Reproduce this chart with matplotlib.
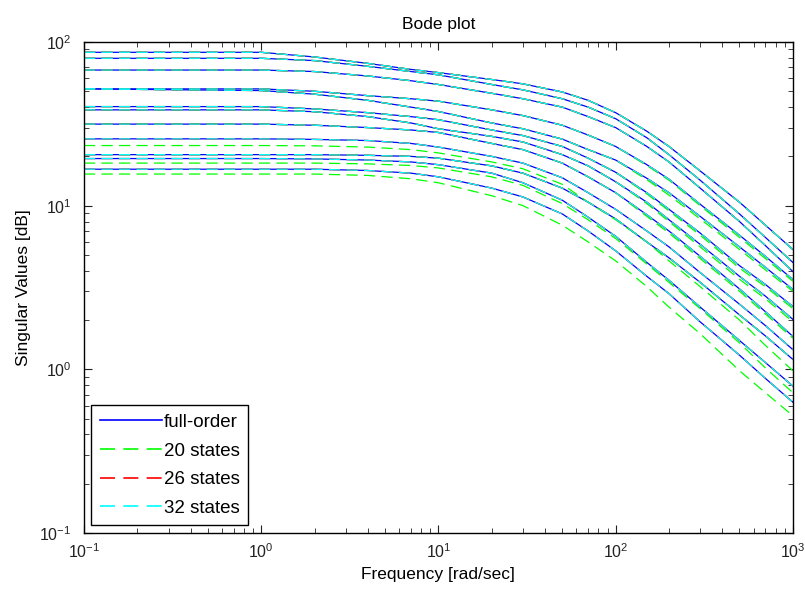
import numpy as np
import matplotlib
matplotlib.use('Agg')
import matplotlib.pyplot as plt
from matplotlib.ticker import LogLocator, NullFormatter

plt.rcParams['font.family'] = ['Liberation Sans', 'DejaVu Sans']

# frequency samples [rad/sec]
freq = [0.1, 1, 2, 4, 7, 10, 20, 30, 50, 70, 100, 150, 200, 300, 500, 700, 1000]

# singular values, full-order model
sv_full = [
    [86.5, 86.5, 81, 74, 68, 65, 59, 55.5, 49.5, 44, 37, 28.5, 23, 16.3, 10.5, 7.6, 5.4],
    [79.5, 79.5, 77, 71, 66, 63, 55, 51, 45, 40, 34, 26, 20.5, 14.3, 8.9, 6.4, 4.5],
    [67.4, 67.4, 66, 62, 58, 55, 48.6, 45, 40, 35, 30, 23, 18.5, 12.8, 8.0, 5.7, 3.96],
    [51.7, 51.7, 50, 47, 45, 43.5, 38.5, 35.5, 31, 27, 23, 17.8, 14.5, 10.2, 6.6, 4.9, 3.54],
    [51.7, 50.5, 48, 44, 40, 37.6, 32, 29.5, 25.5, 22, 19, 14.7, 12, 8.6, 5.6, 4.2, 3.08],
    [40.3, 40.3, 39, 37, 35, 33.5, 29, 26.8, 23, 19.5, 16, 12, 9.5, 6.8, 4.3, 3.3, 2.42],
    [38.5, 38.5, 37.5, 35, 32, 29.5, 26.5, 24.5, 20.5, 17.5, 14, 10.5, 8.2, 5.8, 3.7, 2.8, 2.02],
    [31.5, 31.5, 31, 30, 29, 28, 24, 22, 18.2, 15, 12, 8.8, 7, 4.9, 3.1, 2.25, 1.59],
    [25.6, 25.6, 25.4, 25, 24, 22.8, 20, 18.2, 14.8, 12, 9.5, 7.0, 5.6, 3.9, 2.5, 1.85, 1.32],
    [20.5, 20.5, 20.5, 20.3, 20, 19.5, 17.5, 15.8, 12.8, 10.5, 8.3, 6.0, 4.8, 3.4, 2.15, 1.6, 1.15],
    [19.4, 19.4, 19.3, 19, 18.5, 17.8, 15.8, 13.8, 10.8, 8.5, 6.5, 4.5, 3.5, 2.4, 1.5, 1.1, 0.79],
    [16.7, 16.7, 16.7, 16.4, 15.8, 15, 12.8, 11.3, 8.9, 7, 5.3, 3.7, 2.9, 1.95, 1.22, 0.88, 0.63],
]

# 20-state reduced model
sv_20 = [
    [86.5, 86.5, 81, 74, 68, 65, 59, 55.5, 49.5, 44, 37, 28.5, 23, 16.3, 10.5, 7.6, 5.4],
    [79.5, 79.5, 77, 71, 66, 63, 55, 51, 45, 40, 34, 26, 20.5, 14.3, 8.9, 6.4, 4.5],
    [67.4, 67.4, 66, 62, 58, 55, 48.6, 45, 40, 35, 30, 23, 18.5, 12.8, 8.0, 5.7, 3.96],
    [51.7, 51.7, 50, 47, 45, 43.5, 38.5, 35.5, 31, 27, 23, 17.6, 14.3, 10, 6.4, 4.75, 3.45],
    [51.7, 50.5, 48, 44, 40, 37.6, 32, 29.5, 25.5, 22, 19, 14.4, 11.6, 8.3, 5.4, 4.05, 3.0],
    [40.3, 40.3, 39, 37, 35, 33.5, 29, 26.8, 23, 19.5, 16, 11.8, 9.3, 6.6, 4.15, 3.2, 2.35],
    [38.5, 38.5, 37.5, 35, 32, 29.5, 26.5, 24.5, 20.5, 17.5, 14, 10.3, 8.0, 5.6, 3.55, 2.7, 1.95],
    [31.5, 31.5, 31, 30, 29, 28, 24, 22, 18.2, 15, 12, 8.6, 6.8, 4.75, 3.0, 2.18, 1.55],
    [23.3, 23.3, 23.2, 22.8, 22, 21, 18.5, 16.8, 13.5, 10.5, 8.2, 6.0, 4.6, 3.2, 2.0, 1.4, 0.98],
    [20.5, 20.5, 20.5, 20.3, 20, 19.5, 17.5, 15.8, 12.8, 10.5, 8.3, 6.0, 4.8, 3.4, 2.15, 1.6, 1.15],
    [18.2, 18.2, 18.2, 18, 17.6, 17, 15, 13.3, 10.3, 8.2, 6.3, 4.4, 3.4, 2.35, 1.45, 1.02, 0.72],
    [15.6, 15.6, 15.6, 15.3, 14.6, 13.8, 11.5, 10.0, 7.6, 6.0, 4.6, 3.2, 2.4, 1.65, 0.98, 0.72, 0.52],
]

# 26- and 32-state models lie on top of the full-order curves
sv_26 = sv_full
sv_32 = sv_full

labels = ['full-order', '20 states', '26 states', '32 states']

fig = plt.figure(figsize=(8.05, 6.0), dpi=100)
ax = fig.add_axes([0.1043, 0.1117, 0.8806, 0.8183])

dash = (0, (9, 5))
for i, y in enumerate(sv_full):
    ax.loglog(freq, y, color='#0000ff', lw=0.9, label=labels[0] if i == 0 else None)
for i, y in enumerate(sv_20):
    ax.loglog(freq, y, color='#00ff00', lw=0.9, linestyle=dash, label=labels[1] if i == 0 else None)
for i, y in enumerate(sv_26):
    ax.loglog(freq, y, color='#ff0000', lw=0.9, linestyle=dash, label=labels[2] if i == 0 else None)
for i, y in enumerate(sv_32):
    ax.loglog(freq, y, color='#00ffff', lw=0.9, linestyle=dash, label=labels[3] if i == 0 else None)

ax.set_xlim(0.1, 1000)
ax.set_ylim(0.1, 100)
ax.xaxis.set_major_locator(LogLocator(base=10, numticks=10))
ax.yaxis.set_major_locator(LogLocator(base=10, numticks=10))
ax.xaxis.set_minor_locator(LogLocator(base=10, subs=np.arange(2, 10), numticks=20))
ax.yaxis.set_minor_locator(LogLocator(base=10, subs=np.arange(2, 10), numticks=20))
ax.xaxis.set_minor_formatter(NullFormatter())
ax.yaxis.set_minor_formatter(NullFormatter())
ax.tick_params(which='both', direction='in', top=True, right=True, labelsize=11.5, colors='#222222')
ax.tick_params(which='major', length=6)
ax.tick_params(which='minor', length=3.5)
ax.tick_params(axis='y', which='major', pad=9)
ax.tick_params(axis='x', which='major', pad=7)
for s in ax.spines.values():
    s.set_linewidth(1.0)

ax.set_title('Bode plot', fontsize=12.5, pad=9)
ax.set_xlabel('Frequency [rad/sec]', fontsize=12.5, labelpad=4)
ax.set_ylabel('Singular Values [dB]', fontsize=12.5, labelpad=6)

leg = ax.legend(loc='lower left', fontsize=13.5, handlelength=3.3, fancybox=False,
                edgecolor='black', framealpha=1, borderaxespad=0.4, labelspacing=0.62,
                handletextpad=0.1, borderpad=0.45)
leg.get_frame().set_linewidth(1.0)
for line in leg.get_lines():
    line.set_linewidth(1.2)

fig.savefig('out.png', dpi=100)
